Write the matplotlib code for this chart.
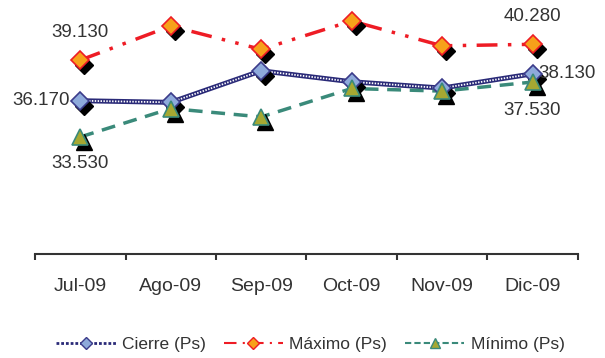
import matplotlib.pyplot as plt
from matplotlib.transforms import offset_copy

plt.rcParams['font.family'] = ['Liberation Sans', 'DejaVu Sans']

months = ['Jul-09', 'Ago-09', 'Sep-09', 'Oct-09', 'Nov-09', 'Dic-09']
cierre = [36.17, 36.05, 38.35, 37.55, 37.09, 38.13]
maximo = [39.13, 41.61, 39.91, 41.98, 40.17, 40.28]
minimo = [33.53, 35.60, 34.99, 37.06, 36.87, 37.53]

fig = plt.figure(figsize=(6.05, 3.58), dpi=100)
ax = fig.add_axes([0.058, 0.2905, 0.897, 0.69])
x = list(range(len(months)))
shadow = offset_copy(ax.transData, fig=fig, x=4, y=-5, units='dots')

# Cierre: checkered navy line
ax.plot(x, cierre, color='#2a2a78', lw=3.6, zorder=2)
ax.plot(x, cierre, color='white', lw=1.3, ls=(0, (0.8, 0.8)), zorder=2)
ax.plot(x, cierre, ls='none', marker='D', ms=9.5, color='black', transform=shadow, zorder=3)
ax.plot(x, cierre, ls='none', marker='D', ms=9, mfc='#8eaadb', mec='#3b3b8a', mew=1.2, zorder=4)

# Maximo: red dash-dot-dot
ax.plot(x, maximo, color='#ee1c25', lw=2.5, ls=(0, (6, 3, 1, 3, 1, 3)), zorder=2)
ax.plot(x, maximo, ls='none', marker='D', ms=9.5, color='black', transform=shadow, zorder=3)
ax.plot(x, maximo, ls='none', marker='D', ms=9, mfc='#f7a11a', mec='#ee1c25', mew=1.2, zorder=4)

# Minimo: teal dashed
ax.plot(x, minimo, color='#3a8a7a', lw=2.5, ls=(0, (4, 2.5)), zorder=2)
ax.plot(x, minimo, ls='none', marker='^', ms=11.5, color='black', transform=shadow, zorder=3)
ax.plot(x, minimo, ls='none', marker='^', ms=11, mfc='#a6a832', mec='#3a8a7a', mew=1.2, zorder=4)

# legend handles
h1 = plt.Line2D([], [], color='#2a2a78', lw=2, ls=(0, (1, 0.7)), marker='D', ms=6.5,
                mfc='#8eaadb', mec='#3b3b8a')
h2 = plt.Line2D([], [], color='#ee1c25', lw=1.5, ls=(0, (6, 3, 1, 3)), marker='D', ms=6.5,
                mfc='#f7a11a', mec='#ee1c25')
h3 = plt.Line2D([], [], color='#3a8a7a', lw=1.5, ls=(0, (3, 1.5)), marker='^', ms=7.5,
                mfc='#a6a832', mec='#3a8a7a')
fig.legend([h1, h2, h3], ['Cierre (Ps)', 'Máximo (Ps)', 'Mínimo (Ps)'],
           loc='center', bbox_to_anchor=(0.513, 0.037), ncol=3, frameon=False,
           fontsize=12.5, handlelength=3.45, handletextpad=0.35, columnspacing=1.0,
           labelcolor='#333333')

# data labels
tc = '#333333'
fs = 13.5
ax.annotate(f'{maximo[0]:.3f}', (0, maximo[0]), xytext=(0, 28),
            textcoords='offset pixels', ha='center', va='center', fontsize=fs, color=tc)
ax.annotate(f'{cierre[0]:.3f}', (0, cierre[0]), xytext=(-10, 0),
            textcoords='offset pixels', ha='right', va='center', fontsize=fs, color=tc)
ax.annotate(f'{minimo[0]:.3f}', (0, minimo[0]), xytext=(0, -27),
            textcoords='offset pixels', ha='center', va='center', fontsize=fs, color=tc)
ax.annotate(f'{maximo[-1]:.3f}', (5, maximo[-1]), xytext=(0, 28),
            textcoords='offset pixels', ha='center', va='center', fontsize=fs, color=tc)
ax.annotate(f'{cierre[-1]:.3f}', (5, cierre[-1]), xytext=(6, 0),
            textcoords='offset pixels', ha='left', va='center', fontsize=fs, color=tc)
ax.annotate(f'{minimo[-1]:.3f}', (5, minimo[-1]), xytext=(0, -28),
            textcoords='offset pixels', ha='center', va='center', fontsize=fs, color=tc)

ax.set_xlim(-0.5, len(months) - 0.5)
ax.set_ylim(25, 43)
ax.set_yticks([])
for s in ['left', 'right', 'top']:
    ax.spines[s].set_visible(False)
ax.spines['bottom'].set_color('#333333')
ax.spines['bottom'].set_linewidth(1.5)
ax.set_xticks(x)
ax.set_xticklabels(months, fontsize=14, color='#333333')
ax.tick_params(axis='x', which='major', length=0, pad=17)
ax.set_xticks([i - 0.5 for i in range(len(months) + 1)], minor=True)
ax.tick_params(axis='x', which='minor', length=4, width=1.5, color='#333333')

fig.savefig('out.png', dpi=100)
